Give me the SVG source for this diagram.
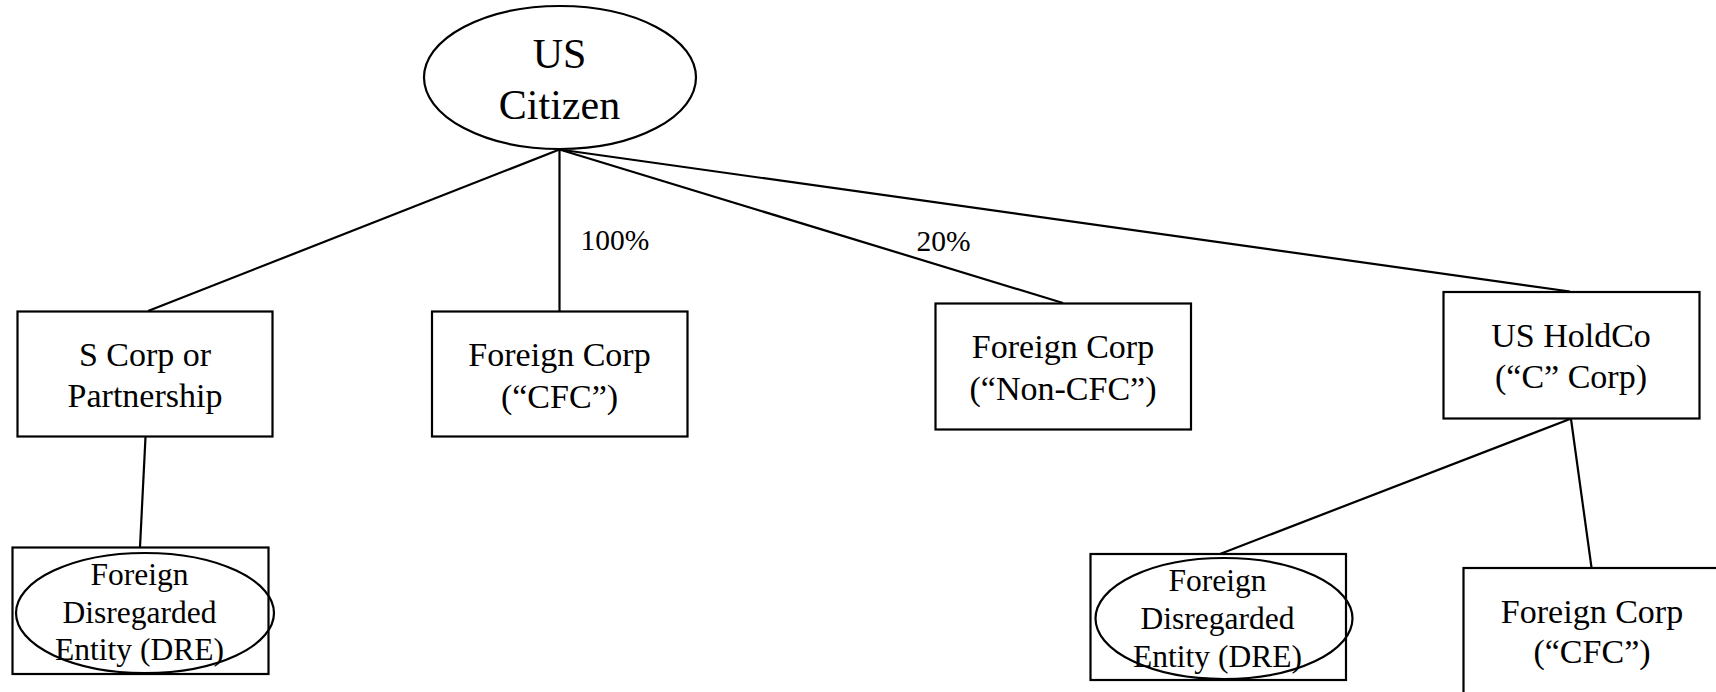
<svg xmlns="http://www.w3.org/2000/svg" width="1716" height="692" viewBox="0 0 1716 692">
<style>
.box{fill:#fff;stroke:#000;stroke-width:2.2}
.ell{fill:none;stroke:#000;stroke-width:2.2}
.ellf{fill:#fff;stroke:#000;stroke-width:2.2}
.c line{stroke:#000;stroke-width:2.2}
text{font-family:"Liberation Serif","Times New Roman",serif;fill:#000;text-anchor:middle}
.t34{font-size:34px}
.t42{font-size:42px}
.t31{font-size:31.5px}
.lab{font-size:29.5px;text-anchor:start}
</style>
<rect width="1716" height="692" fill="#fff"/>
<g id="connectors" class="c">
<line x1="559.5" y1="149.5" x2="148" y2="311"/>
<line x1="559.5" y1="149.5" x2="559.5" y2="311"/>
<line x1="559.5" y1="149.5" x2="1063" y2="303"/>
<line x1="559.5" y1="149.5" x2="1570" y2="291.5"/>
<line x1="145.5" y1="437" x2="140" y2="547"/>
<line x1="1570" y1="419" x2="1220" y2="554"/>
<line x1="1571" y1="419" x2="1591.5" y2="567.5"/>
</g>
<g id="us-citizen">
<ellipse class="ellf" cx="560" cy="77.5" rx="136" ry="71.5"/>
<text class="t42" x="559.5" y="68">US</text>
<text class="t42" x="559.5" y="119">Citizen</text>
</g>
<g id="s-corp">
<rect class="box" x="17.5" y="311.5" width="255" height="125"/>
<text class="t34" x="145" y="366">S Corp or</text>
<text class="t34" x="145" y="407">Partnership</text>
</g>
<g id="foreign-cfc">
<rect class="box" x="432" y="311.5" width="255.5" height="125"/>
<text class="t34" x="559.5" y="366">Foreign Corp</text>
<text class="t34" x="559.5" y="408">(“CFC”)</text>
</g>
<g id="foreign-noncfc">
<rect class="box" x="935.5" y="303.5" width="255.5" height="126"/>
<text class="t34" x="1063" y="358">Foreign Corp</text>
<text class="t34" x="1063" y="400">(“Non-CFC”)</text>
</g>
<g id="us-holdco">
<rect class="box" x="1443.5" y="292" width="256" height="126.5"/>
<text class="t34" x="1571" y="347">US HoldCo</text>
<text class="t34" x="1571" y="388">(“C” Corp)</text>
</g>
<g id="dre-left">
<rect class="box" x="12.5" y="547.5" width="256" height="126.5"/>
<ellipse class="ell" cx="145" cy="613" rx="129" ry="60"/>
<text class="t31" x="139.5" y="585">Foreign</text>
<text class="t31" x="139.5" y="622.5">Disregarded</text>
<text class="t31" x="139.5" y="660">Entity (DRE)</text>
</g>
<g id="dre-right">
<rect class="box" x="1090.5" y="554" width="255.5" height="126"/>
<ellipse class="ell" cx="1224" cy="618.5" rx="128.5" ry="60.5"/>
<text class="t31" x="1217.5" y="591">Foreign</text>
<text class="t31" x="1217.5" y="628.5">Disregarded</text>
<text class="t31" x="1217.5" y="666.5">Entity (DRE)</text>
</g>
<g id="foreign-cfc-2">
<rect class="box" x="1463.5" y="568" width="256" height="127"/>
<text class="t34" x="1592" y="623">Foreign Corp</text>
<text class="t34" x="1592" y="663">(“CFC”)</text>
</g>
<g id="labels">
<text class="lab" x="580.5" y="250">100%</text>
<text class="lab" x="916.5" y="250.5">20%</text>
</g>
</svg>
